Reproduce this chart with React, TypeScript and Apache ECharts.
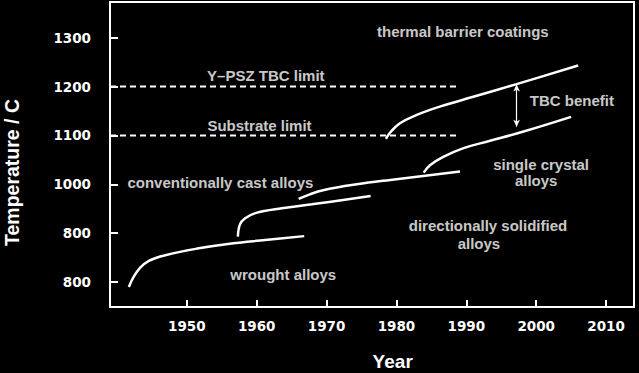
import React, { useEffect, useRef } from "react";
import * as echarts from "echarts";

const xTickValues = [1950, 1960, 1970, 1980, 1990, 2000, 2010];
const yTickValues = [800, 900, 1000, 1100, 1200, 1300];
const yTickLabels = ["800", "800", "1000", "1100", "1200", "1300"];

const wrought = [
  [1941.7, 790], [1942.4, 811], [1943.3, 829], [1944.5, 843], [1946.9, 855],
  [1951.7, 869], [1956.4, 879], [1961.2, 886], [1966.8, 894],
];
const conventional = [
  [1957.3, 893], [1957.6, 918], [1958.3, 930], [1959.8, 941], [1963.6, 951],
  [1967.9, 959], [1976.3, 976],
];
const directional = [
  [1966.0, 970], [1967.6, 979.5], [1969.5, 988], [1974.3, 1000], [1979.1, 1009],
  [1989.1, 1026],
];
const singleCrystal = [
  [1983.9, 1024], [1984.8, 1039], [1986.7, 1056], [1989.6, 1074], [1993.4, 1089],
  [1998.2, 1108], [2005.0, 1138],
];
const tbc = [
  [1978.5, 1093], [1979.1, 1106], [1980.5, 1125], [1982.9, 1142], [1986.2, 1159],
  [1991.0, 1179], [1997.2, 1205], [2006.0, 1243],
];
const ypszLimit = [[1939, 1200], [1989, 1200]];
const substrateLimit = [[1939, 1100], [1989, 1100]];
const tbcBenefitArrow = [[1997.2, 1204], [1997.2, 1118]];

const annotationTexts = [
  "Y–PSZ TBC limit", "Substrate limit", "thermal barrier coatings", "TBC benefit",
  "single crystal", "alloys", "conventionally cast alloys",
  "directionally solidified", "alloys", "wrought alloys",
];
const annotationYears = [1961.3, 1960.4, 1989.5, 2005.1, 2000.7, 2000.0, 1954.8, 1993.1, 1991.8, 1963.8];
const annotationTemps = [1223, 1121, 1313, 1171, 1041, 1008, 1003, 916, 879, 816];

const FONT = "'Liberation Sans', Arial, sans-serif";
const TICK_FONT = "'DejaVu Sans', 'Liberation Sans', sans-serif";

export default function App() {
  const ref = useRef<HTMLDivElement>(null);
  useEffect(() => {
    const chart = echarts.init(ref.current!, undefined, { renderer: "svg" });
    const curve = (data: number[][]) => ({
      type: "line",
      data,
      smooth: 0.4,
      symbol: "none",
      lineStyle: { color: "#fff", width: 2.5 },
      silent: true,
    });
    const dashed = (data: number[][]) => ({
      type: "line",
      data,
      symbol: "none",
      lineStyle: { color: "#fff", width: 2, type: [6, 4] },
      silent: true,
    });
    chart.setOption({
      animation: false,
      backgroundColor: "#000",
      grid: {
        left: 110, right: 5, top: 2, bottom: 66,
        show: true, borderColor: "#fff", borderWidth: 2, backgroundColor: "#000",
      },
      xAxis: {
        type: "value", min: 1939, max: 2014,
        axisLine: { show: true, lineStyle: { color: "#fff", width: 2 } },
        axisTick: { show: true, inside: true, length: 7, customValues: xTickValues, lineStyle: { color: "#fff", width: 2 } },
        axisLabel: {
          customValues: xTickValues, color: "#fff", fontSize: 13.5, fontWeight: "bold", fontFamily: TICK_FONT, margin: 12,
          formatter: (v: number) => String(v),
        },
        splitLine: { show: false },
      },
      yAxis: {
        type: "value", min: 749, max: 1373,
        axisLine: { show: true, lineStyle: { color: "#fff", width: 2 } },
        axisTick: { show: true, inside: true, length: 8, customValues: yTickValues, lineStyle: { color: "#fff", width: 2 } },
        axisLabel: {
          customValues: yTickValues, color: "#fff", fontSize: 13.5, fontWeight: "bold", fontFamily: TICK_FONT, margin: 19,
          formatter: (v: number) => yTickLabels[yTickValues.indexOf(v)] ?? "",
        },
        splitLine: { show: false },
      },
      graphic: [
        { type: "text", x: 392.7, y: 361, style: { text: "Year", fill: "#fff", font: `bold 19px ${FONT}`, textAlign: "center", textVerticalAlign: "middle" } },
        { type: "text", x: 11.5, y: 172.5, rotation: Math.PI / 2, style: { text: "Temperature / C", fill: "#fff", font: `bold 19.5px ${FONT}`, textAlign: "center", textVerticalAlign: "middle" } },
      ],
      series: [
        curve(wrought),
        curve(conventional),
        curve(directional),
        curve(singleCrystal),
        curve(tbc),
        dashed(ypszLimit),
        dashed(substrateLimit),
        {
          type: "line", data: [], silent: true,
          markLine: {
            silent: true, symbol: ["arrow", "arrow"], symbolSize: [5, 7],
            label: { show: false },
            lineStyle: { color: "#fff", width: 1.2, type: "solid" },
            data: [[{ coord: tbcBenefitArrow[0] }, { coord: tbcBenefitArrow[1] }]],
          },
        },
        {
          type: "scatter", silent: true, symbolSize: 1,
          itemStyle: { color: "rgba(0,0,0,0)" },
          data: annotationTexts.map((t, i) => ({ name: t, value: [annotationYears[i], annotationTemps[i]] })),
          label: {
            show: true, position: "inside", formatter: (p: any) => p.name,
            color: "#fff", fontSize: 15, fontWeight: "bold", fontFamily: FONT,
          },
        },
      ],
    });
    return () => chart.dispose();
  }, []);
  return (
    <div
      ref={ref}
      style={{ position: "absolute", left: 0, top: 0, width: 639, height: 373, background: "#000" }}
    />
  );
}
